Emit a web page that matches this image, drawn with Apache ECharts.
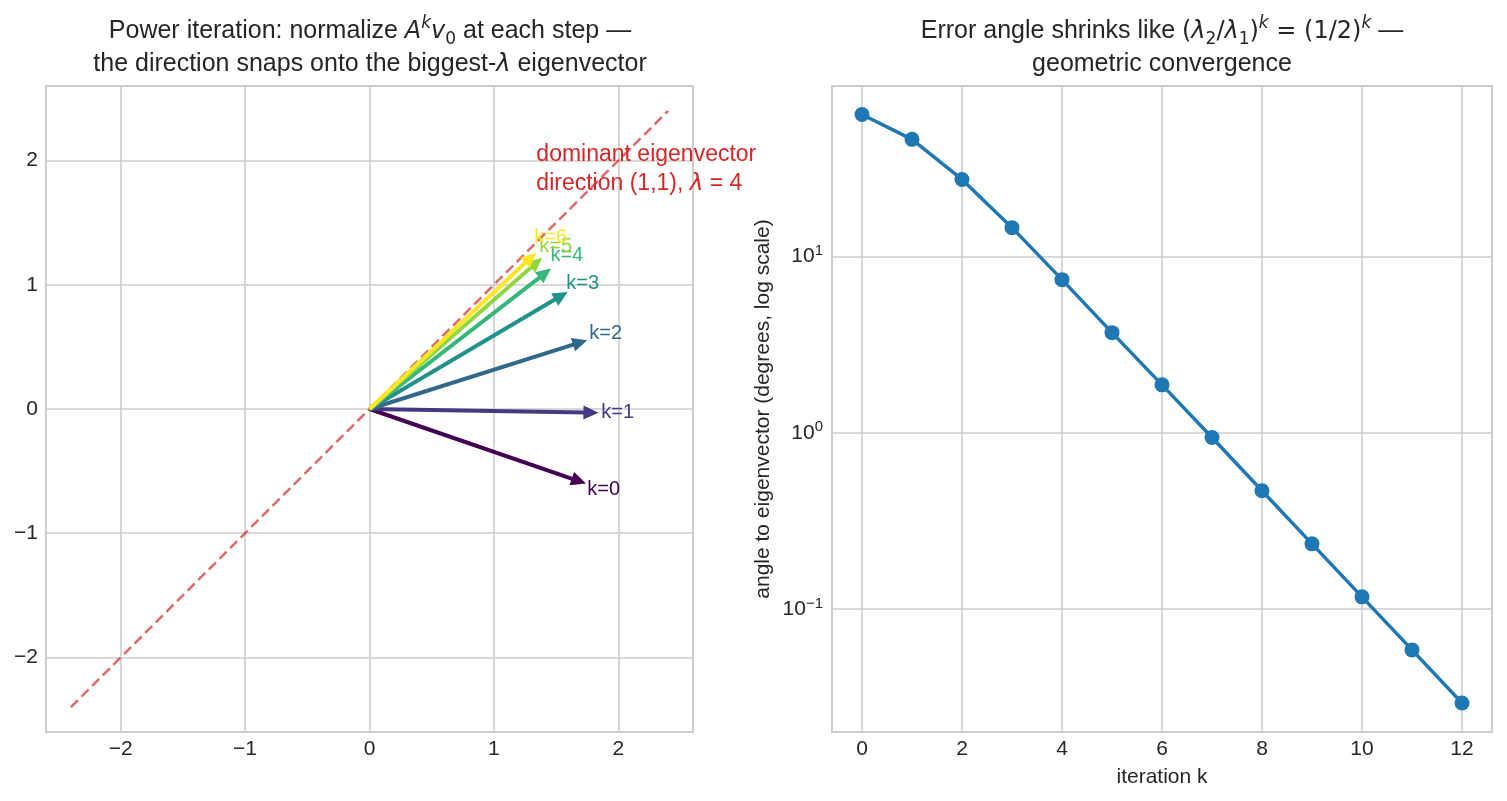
<!DOCTYPE html>
<html>
<head>
<meta charset="utf-8">
<script src="https://cdn.jsdelivr.net/npm/echarts@6/dist/echarts.min.js"></script>
<style>
  html, body { margin: 0; padding: 0; background: #fff; }
  #main { width: 1507px; height: 801px; }
</style>
</head>
<body>
<div id="main"></div>
<script>
// left panel: normalized iterates (arrow tips), k = 0..6
var arrowNames = ['k=0', 'k=1', 'k=2', 'k=3', 'k=4', 'k=5', 'k=6'];
var arrowX = [1.74, 1.84, 1.75, 1.593, 1.459, 1.387, 1.339];
var arrowY = [-0.60, -0.03, 0.554, 0.942, 1.13, 1.218, 1.259];
// where the k=.. labels sit (left edge, middle)
var labelX = [1.751, 1.863, 1.767, 1.582, 1.454, 1.365, 1.325];
var labelY = [-0.651, -0.032, 0.610, 1.012, 1.237, 1.31, 1.382];
var arrowColors = ['#440154', '#443983', '#31688e', '#21918c', '#35b779', '#90d743', '#fde725'];

// dominant eigenvector direction
var diagX = [-2.4, 2.4];
var diagY = [-2.4, 2.4];
var annotX = [1.341];
var annotY = [1.928];

// right panel: angle error per iteration
var iters = [0, 1, 2, 3, 4, 5, 6, 7, 8, 9, 10, 11, 12];
var angleErr = [64.1, 46.3, 27.4, 14.6, 7.4, 3.7, 1.87, 0.94, 0.468, 0.234, 0.117, 0.0585, 0.0292];

var FONT = '"Liberation Sans", Arial, sans-serif';
var MATH = '"DejaVu Sans", sans-serif';
var TXT = '#262626';
var GRIDC = '#cccccc';

function minusFmt(v) {
    if (Math.abs(v - Math.round(v)) > 1e-6) return '';
    return v < 0 ? '\u2212' + (-v) : String(v);
}

function logFmt(v) {
    var l = Math.log10(v);
    var e = Math.round(l);
    if (Math.abs(l - e) > 1e-6) return '';
    return '10{sup|' + (e < 0 ? '\u2212' + (-e) : e) + '}';
}

function renderArrow(params, api) {
    var p0 = api.coord([0, 0]);
    var p1 = api.coord([api.value(0), api.value(1)]);
    var dx = p1[0] - p0[0], dy = p1[1] - p0[1];
    var len = Math.sqrt(dx * dx + dy * dy);
    var ux = dx / len, uy = dy / len;
    var headLen = 15, headW = 7;
    var bx = p1[0] - ux * headLen, by = p1[1] - uy * headLen;
    var color = arrowColors[params.dataIndex];
    return {
        type: 'group',
        children: [
            {
                type: 'line',
                shape: { x1: p0[0], y1: p0[1], x2: bx + ux * 2, y2: by + uy * 2 },
                style: { stroke: color, lineWidth: 4 }
            },
            {
                type: 'polygon',
                shape: { points: [[p1[0], p1[1]], [bx - uy * headW, by + ux * headW], [bx + uy * headW, by - ux * headW]] },
                style: { fill: color }
            }
        ]
    };
}

var axisCommon = {
    axisLine: { show: false },
    axisTick: { show: false },
    splitLine: { show: true, lineStyle: { color: GRIDC, width: 1.6 } },
    axisLabel: { color: TXT, fontSize: 21, fontFamily: FONT }
};

var titleRich = {
    i: { fontFamily: MATH, fontStyle: 'italic', fontSize: 24, lineHeight: 33, fill: TXT },
    sup: { fontFamily: MATH, fontStyle: 'italic', fontSize: 17, lineHeight: 33, verticalAlign: 'top', fill: TXT },
    sub: { fontFamily: MATH, fontSize: 17, lineHeight: 33, verticalAlign: 'bottom', fill: TXT },
    m: { fontFamily: MATH, fontSize: 24, lineHeight: 33, fill: TXT }
};

var option = {
    backgroundColor: '#ffffff',
    animation: false,
    graphic: [
        {
            type: 'text', x: 370, y: 15,
            style: {
                text: 'Power iteration: normalize {i|A}{sup|k}{i|v}{sub|0} at each step \u2014\nthe direction snaps onto the biggest-{i|\u03bb} eigenvector',
                rich: titleRich,
                font: '25px ' + FONT, fill: TXT, lineHeight: 33,
                align: 'center', verticalAlign: 'top'
            }
        },
        {
            type: 'text', x: 1162, y: 15,
            style: {
                text: 'Error angle shrinks like {m|(}{i|\u03bb}{sub|2}{m|/}{i|\u03bb}{sub|1}{m|)}{sup|k}{m| = (1/2)}{sup|k} \u2014\ngeometric convergence',
                rich: titleRich,
                font: '25px ' + FONT, fill: TXT, lineHeight: 33,
                align: 'center', verticalAlign: 'top'
            }
        }
    ],
    grid: [
        { left: 46, top: 86, width: 647, height: 646, show: true, borderColor: GRIDC, borderWidth: 2, outerBoundsMode: 'none' },
        { left: 832, top: 86, width: 660, height: 646, show: true, borderColor: GRIDC, borderWidth: 2, outerBoundsMode: 'none' }
    ],
    xAxis: [
        Object.assign({}, axisCommon, {
            gridIndex: 0, type: 'value', min: -2.6, max: 2.6, splitNumber: 5,
            axisLabel: Object.assign({}, axisCommon.axisLabel, { formatter: minusFmt, margin: 7 })
        }),
        Object.assign({}, axisCommon, {
            gridIndex: 1, type: 'value', min: -0.6, max: 12.6, splitNumber: 7,
            axisLabel: Object.assign({}, axisCommon.axisLabel, { formatter: minusFmt, margin: 7 }),
            name: 'iteration k', nameLocation: 'middle', nameGap: 35,
            nameTextStyle: { color: TXT, fontSize: 21, fontFamily: FONT }
        })
    ],
    yAxis: [
        Object.assign({}, axisCommon, {
            gridIndex: 0, type: 'value', min: -2.6, max: 2.6, splitNumber: 5,
            axisLabel: Object.assign({}, axisCommon.axisLabel, { formatter: minusFmt, margin: 8 })
        }),
        Object.assign({}, axisCommon, {
            gridIndex: 1, type: 'log', logBase: 10, min: 0.02, max: 93,
            minorTick: { show: false }, minorSplitLine: { show: false },
            axisLabel: Object.assign({}, axisCommon.axisLabel, {
                formatter: logFmt, margin: 9,
                rich: { sup: { fontSize: 15, color: TXT, fontFamily: FONT, verticalAlign: 'top', lineHeight: 26 } },
                lineHeight: 26
            }),
            name: 'angle to eigenvector (degrees, log scale)', nameLocation: 'middle', nameGap: 58,
            nameTextStyle: { color: TXT, fontSize: 21, fontFamily: FONT }
        })
    ],
    series: [
        {
            type: 'line', xAxisIndex: 0, yAxisIndex: 0,
            data: diagX.map(function (x, i) { return [x, diagY[i]]; }),
            symbol: 'none', z: 1,
            lineStyle: { color: 'rgba(214,39,40,0.7)', width: 2.5, type: [10, 5] }
        },
        {
            type: 'custom', xAxisIndex: 0, yAxisIndex: 0, z: 3,
            renderItem: renderArrow,
            data: arrowX.map(function (x, i) { return [x, arrowY[i]]; })
        },
        {
            type: 'scatter', xAxisIndex: 0, yAxisIndex: 0, z: 4,
            symbolSize: 0,
            itemStyle: { opacity: 1 },
            data: labelX.map(function (x, i) {
                return { value: [x, labelY[i]], name: arrowNames[i], label: { color: arrowColors[i] } };
            }),
            label: {
                show: true, position: 'right', distance: 0,
                formatter: '{b}', fontSize: 20, fontFamily: FONT
            }
        },
        {
            type: 'scatter', xAxisIndex: 0, yAxisIndex: 0, z: 4,
            symbolSize: 0,
            itemStyle: { opacity: 1 },
            data: annotX.map(function (x, i) { return [x, annotY[i]]; }),
            label: {
                show: true, position: 'right', distance: 0,
                formatter: 'dominant eigenvector\ndirection (1,1), {i|\u03bb} = 4',
                color: '#d62728', fontSize: 23, fontFamily: FONT, lineHeight: 29,
                rich: { i: { fontFamily: MATH, fontStyle: 'italic', fontSize: 23, color: '#d62728', lineHeight: 29 } }
            }
        },
        {
            type: 'line', xAxisIndex: 1, yAxisIndex: 1,
            data: iters.map(function (k, i) { return [k, angleErr[i]]; }),
            symbol: 'circle', symbolSize: 15,
            itemStyle: { color: '#1f77b4' },
            lineStyle: { color: '#1f77b4', width: 3.5 }
        }
    ]
};

var chart = echarts.init(document.getElementById('main'));
chart.setOption(option);
</script>
</body>
</html>
